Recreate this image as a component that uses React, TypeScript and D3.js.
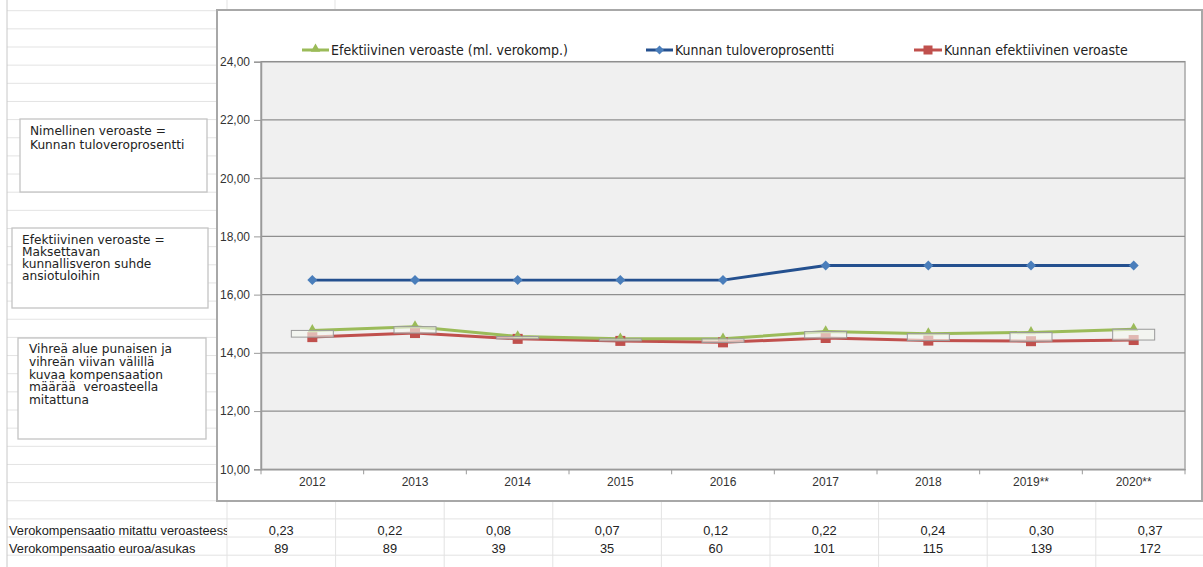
import { useEffect, useRef } from "react";
import * as d3 from "d3";

const years = ["2012", "2013", "2014", "2015", "2016", "2017", "2018", "2019**", "2020**"];
const tuloveroprosentti = [16.5, 16.5, 16.5, 16.5, 16.5, 17.0, 17.0, 17.0, 17.0];
const efektiivinenMlKomp = [14.77, 14.9, 14.56, 14.48, 14.48, 14.73, 14.66, 14.7, 14.81];
const efektiivinen = [14.54, 14.68, 14.48, 14.41, 14.36, 14.51, 14.42, 14.4, 14.44];
const yTicks = [10, 12, 14, 16, 18, 20, 22, 24];

const rowLabels = ["Verokompensaatio mitattu veroasteessa", "Verokompensaatio euroa/asukas"];
const kompVeroaste = ["0,23", "0,22", "0,08", "0,07", "0,12", "0,22", "0,24", "0,30", "0,37"];
const kompEuroa = ["89", "89", "39", "35", "60", "101", "115", "139", "172"];

const notes = [
  ["Nimellinen veroaste =", "Kunnan tuloveroprosentti"],
  ["Efektiivinen veroaste =", "Maksettavan", "kunnallisveron suhde", "ansiotuloihin"],
  ["Vihreä alue punaisen ja", "vihreän viivan välillä", "kuvaa kompensaation", "määrää  veroasteella", "mitattuna"],
];

const GREEN = "#9bbb59";
const BLUE_LINE = "#24508f";
const BLUE_MARK = "#4a7ebb";
const RED = "#c0504d";

function AxisLeft({ scale, x }: { scale: d3.ScaleLinear<number, number>; x: number }) {
  const ref = useRef<SVGGElement>(null);
  useEffect(() => {
    if (!ref.current) return;
    const g = d3.select(ref.current);
    g.call(
      d3
        .axisLeft(scale)
        .tickValues(yTicks)
        .tickSize(7)
        .tickPadding(4)
        .tickFormat((d) => (d as number).toFixed(2).replace(".", ","))
    );
    g.select(".domain").attr("stroke", "#9a9a9a").attr("stroke-width", 1.5);
    g.selectAll(".tick line").attr("stroke", "#9a9a9a");
    g.selectAll("text")
      .attr("fill", "#333")
      .attr("font-family", "'Liberation Sans', Arial, sans-serif")
      .attr("font-size", 12);
  }, [scale]);
  return <g ref={ref} transform={`translate(${x},0)`} />;
}

function AxisBottom({ scale, y }: { scale: d3.ScaleBand<string>; y: number }) {
  const ref = useRef<SVGGElement>(null);
  useEffect(() => {
    if (!ref.current) return;
    const g = d3.select(ref.current);
    g.call(d3.axisBottom(scale).tickSize(0).tickPadding(8));
    g.select(".domain").attr("stroke", "#9a9a9a").attr("stroke-width", 1.5);
    g.selectAll("text")
      .attr("fill", "#333")
      .attr("font-family", "'Liberation Sans', Arial, sans-serif")
      .attr("font-size", 12);
    const [r0, r1] = scale.range();
    const bounds = years.map((_, i) => r0 + i * scale.step()).concat([r1]);
    g.selectAll(".sep")
      .data(bounds)
      .join("line")
      .attr("class", "sep")
      .attr("x1", (d) => d)
      .attr("x2", (d) => d)
      .attr("y1", 0)
      .attr("y2", 5)
      .attr("stroke", "#9a9a9a");
  }, [scale]);
  return <g ref={ref} transform={`translate(0,${y})`} />;
}

export default function App() {
  const W = 1203;
  const H = 567;
  const plot = { left: 261, right: 1185, top: 61.7, bottom: 469.3 };

  const x = d3.scaleBand<string>().domain(years).range([plot.left, plot.right]);
  const y = d3.scaleLinear().domain([10, 24]).range([plot.bottom, plot.top]);
  const cx = (i: number) => (x(years[i]) as number) + x.bandwidth() / 2;

  const line = d3
    .line<number>()
    .x((_, i) => cx(i))
    .y((d) => y(d));

  const rowH = 18.15;
  const rowLines = d3.range(0, 32).map((k) => 10.7 + rowH * k);
  const tableCols = d3.range(0, 10).map((k) => 227 + 108.6 * k);

  const tri = d3.symbol(d3.symbolTriangle, 38)();
  const diamond = (s: number) => `M0,${-s}L${s},0L0,${s}L${-s},0Z`;

  return (
    <svg
      width={W}
      height={H}
      style={{ position: "absolute", left: 0, top: 0, background: "#fff" }}
    >
      <defs>
        <clipPath id="labelclip">
          <rect x={0} y={500} width={227} height={67} />
        </clipPath>
      </defs>
      {/* spreadsheet grid */}
      {rowLines
        .filter((r) => r < 500)
        .map((r, i) => (
          <line key={`rl${i}`} x1={7} x2={216} y1={r} y2={r} stroke="#e3e3e3" />
        ))}
      {rowLines
        .filter((r) => r >= 500 && r < H)
        .map((r, i) => (
          <line key={`rb${i}`} x1={7} x2={W} y1={r} y2={r} stroke="#e3e3e3" />
        ))}
      {tableCols.map((c, i) => (
        <line key={`tc${i}`} x1={c} x2={c} y1={500} y2={H} stroke="#e3e3e3" />
      ))}
      <line x1={227} x2={227} y1={0} y2={10} stroke="#e3e3e3" />
      <line x1={335} x2={335} y1={0} y2={10} stroke="#e3e3e3" />
      <line x1={7} x2={7} y1={0} y2={H} stroke="#c8c8c8" />

      {/* note boxes */}
      {[
        { x: 20, y: 119, w: 187, h: 73, tx: 30, ty: 135, lh: 13.5 },
        { x: 12, y: 228, w: 196, h: 80, tx: 22, ty: 244, lh: 12 },
        { x: 18, y: 338, w: 188, h: 101, tx: 29, ty: 353, lh: 12.8 },
      ].map((b, i) => (
        <g key={`note${i}`}>
          <rect x={b.x} y={b.y} width={b.w} height={b.h} fill="#fff" stroke="#c4c4c4" strokeWidth={1.3} />
          <text fontFamily="'DejaVu Sans', Verdana, sans-serif" fontSize={12.2} fill="#222">
            {notes[i].map((t, j) => (
              <tspan key={j} x={b.tx} y={b.ty + j * b.lh} style={{ whiteSpace: "pre" }}>
                {t}
              </tspan>
            ))}
          </text>
        </g>
      ))}

      {/* chart frame */}
      <rect x={217} y={10} width={985} height={491} fill="#fff" stroke="#a8a8a8" strokeWidth={2} />
      <rect
        x={plot.left}
        y={plot.top}
        width={plot.right - plot.left}
        height={plot.bottom - plot.top}
        fill="#f0f0f0"
        stroke="#a8a8a8"
        strokeWidth={1.5}
      />
      {yTicks.slice(1).map((t) => (
        <line key={`g${t}`} x1={plot.left} x2={plot.right} y1={y(t)} y2={y(t)} stroke="#8f8f8f" strokeWidth={1.3} />
      ))}
      <AxisLeft scale={y} x={plot.left} />
      <AxisBottom scale={x} y={plot.bottom} />

      {/* series */}
      <path d={line(tuloveroprosentti) as string} fill="none" stroke={BLUE_LINE} strokeWidth={2.8} />
      <path d={line(efektiivinen) as string} fill="none" stroke={RED} strokeWidth={3} />
      <path d={line(efektiivinenMlKomp) as string} fill="none" stroke={GREEN} strokeWidth={3} />
      {tuloveroprosentti.map((v, i) => (
        <path key={`b${i}`} d={diamond(5)} transform={`translate(${cx(i)},${y(v)})`} fill={BLUE_MARK} />
      ))}
      {efektiivinen.map((v, i) => (
        <rect key={`r${i}`} x={cx(i) - 5} y={y(v) - 5} width={10} height={10} fill={RED} />
      ))}
      {efektiivinenMlKomp.map((v, i) => (
        <path key={`t${i}`} d={tri as string} transform={`translate(${cx(i)},${y(v) - 1})`} fill={GREEN} />
      ))}
      {/* up-down boxes between red and green */}
      {efektiivinenMlKomp.map((v, i) => (
        <rect
          key={`ud${i}`}
          x={cx(i) - 21}
          y={y(v)}
          width={42}
          height={Math.max(1, y(efektiivinen[i]) - y(v))}
          fill="rgba(246,248,240,0.62)"
          stroke="#9a9a9a"
          strokeWidth={1}
        />
      ))}

      {/* legend */}
      <g fontFamily="'DejaVu Sans Condensed', 'DejaVu Sans', sans-serif" fontSize={14} fill="#222">
        <line x1={302} x2={329} y1={50} y2={50} stroke={GREEN} strokeWidth={3} />
        <path d={tri as string} transform="translate(315.5,49)" fill={GREEN} />
        <text x={331} y={55}>Efektiivinen veroaste (ml. verokomp.)</text>
        <line x1={646} x2={673} y1={50} y2={50} stroke={BLUE_LINE} strokeWidth={3} />
        <path d={diamond(4.5)} transform="translate(659.5,50)" fill={BLUE_MARK} />
        <text x={675} y={55}>Kunnan tuloveroprosentti</text>
        <line x1={914} x2={942} y1={50} y2={50} stroke={RED} strokeWidth={3} />
        <rect x={923.5} y={45.5} width={9} height={9} fill={RED} />
        <text x={944} y={55}>Kunnan efektiivinen veroaste</text>
      </g>

      {/* table */}
      <g fontFamily="'Liberation Sans', Arial, sans-serif" fontSize={12.8} fill="#222">
        <g clipPath="url(#labelclip)">
          <text x={9} y={534.5}>{rowLabels[0]}</text>
          <text x={9} y={552.5}>{rowLabels[1]}</text>
        </g>
        {kompVeroaste.map((v, i) => (
          <text key={`k${i}`} x={(tableCols[i] + tableCols[i + 1]) / 2} y={534.5} textAnchor="middle">
            {v}
          </text>
        ))}
        {kompEuroa.map((v, i) => (
          <text key={`e${i}`} x={(tableCols[i] + tableCols[i + 1]) / 2} y={552.5} textAnchor="middle">
            {v}
          </text>
        ))}
      </g>
    </svg>
  );
}
